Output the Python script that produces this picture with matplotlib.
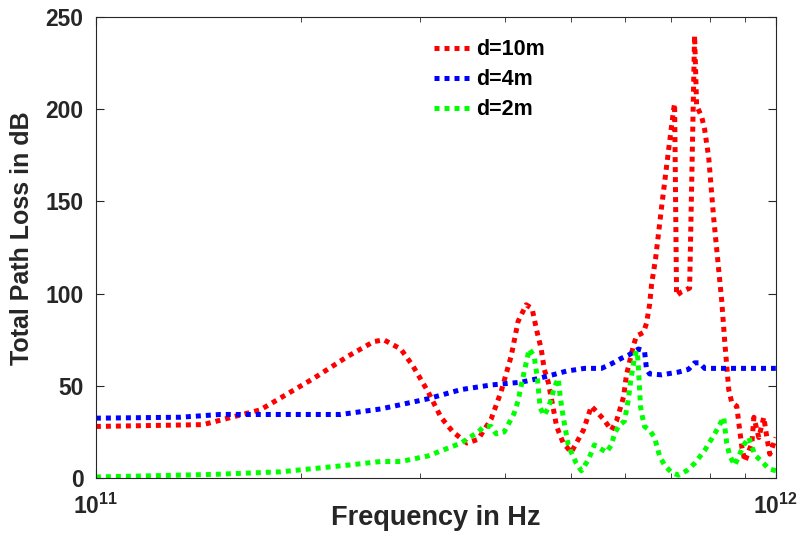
import matplotlib
matplotlib.use("Agg")
import matplotlib.pyplot as plt
from matplotlib.ticker import FixedLocator, NullFormatter, LogLocator
import numpy as np

plt.rcParams['font.family'] = ['Liberation Sans', 'DejaVu Sans']
plt.rcParams['font.weight'] = 'bold'
plt.rcParams['mathtext.fontset'] = 'custom'
plt.rcParams['mathtext.bf'] = 'Liberation Sans:bold'
plt.rcParams['mathtext.rm'] = 'Liberation Sans:bold'

# frequencies in GHz, path loss in dB
f_10m = [100, 143.8, 174.5, 208.9, 234.6, 256.2, 265.1, 280.8, 292.4, 307.8,
         321.7, 335.1, 351.4, 364.8, 381.3, 394.5, 408, 417.8, 429.4, 438,
         445, 451.8, 456.5, 462.7, 470, 476, 486.8, 500.2, 505.4, 521.2,
         535.5, 557.8, 573.1, 583.0, 597.1, 603.0, 617.5, 623.7, 638.8, 645.4,
         652.1, 656.5, 665.5, 679.2, 695.5, 707.5, 709.8, 714.5, 726.8, 746.8,
         759.5, 764.7, 777.9, 785.8, 796.6, 810.2, 824.1, 832.6, 841.1, 852.6,
         861.3, 876.1, 882.1, 891.2, 900.4, 922.1, 928.4, 943.9, 960.1, 970.0,
         979.9, 1000]
pl_10m = [28, 29, 37, 54, 66, 74, 75, 70, 61, 47,
          33, 25, 19, 21, 32, 47, 66, 85, 94, 92,
          80, 70, 59, 52, 39, 28, 19, 14, 17, 26,
          39, 32, 26, 31, 44, 56, 72, 77, 79, 84,
          94, 105, 119, 147, 178, 200, 203, 99, 101, 103,
          240, 202, 196, 189, 174, 141, 113, 96, 74, 48,
          41, 39, 30, 17, 9, 19, 33, 22, 33, 22,
          13, 22]

f_4m = [100, 133, 152.4, 229, 262.4, 307.8, 344.4, 381.3, 422.1, 447.3,
        475.3, 491.8, 523.0, 554.1, 573.1, 593, 609.3, 628, 641, 643.2,
        645.4, 652.1, 679.2, 719.4, 744.2, 759.5, 772.6, 785.8, 1000]
pl_4m = [32.5, 33, 34.5, 34.5, 37.5, 43, 48, 50.5, 52, 54,
         56.5, 58, 59.5, 59.5, 62, 65, 67, 70, 69, 64,
         59, 56.5, 56, 57.5, 59, 62.5, 62.5, 59.5, 59.5]

f_2m = [100, 148.8, 186.8, 234.6, 262.4, 280.8, 307.8, 344.4, 364.8, 372.3,
        381.3, 387.8, 398.5, 405.3, 412.1, 417.8, 422.1, 427.9, 433.8, 441.2,
        446, 450.2, 456.5, 462.7, 467.5, 472.1, 478.6, 481.9, 486.8, 495.1,
        500.2, 508.8, 517.6, 530.1, 541, 563.5, 573.1, 579, 586.8, 599.1,
        607.1, 611.3, 615.5, 619.4, 623.7, 625.8, 628.0, 630.1, 632.3, 636.6,
        641.0, 652.1, 663.2, 674.5, 686, 702.7, 719.4, 739.2, 759.5, 785.8,
        812.9, 838.3, 841.1, 846.8, 855.5, 870.2, 897.3, 912.7, 931.1, 953.6,
        976.6, 1000]
pl_2m = [0.6, 2, 3.4, 7, 9, 9, 12, 19, 25, 28,
         28, 24, 25, 30, 35, 42, 50, 60, 70, 66,
         54, 38, 34, 38, 43, 49, 54, 44, 33, 18,
         14, 8, 4, 10, 18, 14, 18, 24, 28, 31,
         43, 52, 59, 65, 69, 68, 59, 50, 39, 33,
         28, 26, 22, 12, 7, 3, 1.6, 4, 8, 15,
         24, 33, 28, 19, 12, 7, 18, 22, 12.6, 9,
         5, 4]

labels = ['d=10m', 'd=4m', 'd=2m']
colors = ['#ff0000', '#0000ff', '#00ff00']

fig = plt.figure(figsize=(7.99, 5.33), dpi=100)
ax = fig.add_axes([0.120, 0.103, 0.851, 0.865])

series = [(f_10m, pl_10m), (f_4m, pl_4m), (f_2m, pl_2m)]
for (f, pl), lab, c in zip(series, labels, colors):
    ax.plot(np.array(f) * 1e9, pl, color=c, lw=3.6, linestyle=(0, (1, 1)),
            label=lab)

ax.set_xscale('log')
ax.set_xlim(1e11, 1e12)
ax.set_ylim(0, 250)
ax.set_yticks([0, 50, 100, 150, 200, 250])
ax.xaxis.set_major_locator(FixedLocator([1e11, 1e12]))
ax.xaxis.set_minor_locator(LogLocator(base=10, subs=np.arange(2, 10)))
ax.xaxis.set_minor_formatter(NullFormatter())
ax.set_xticklabels([r'$\mathbf{10^{11}}$', r'$\mathbf{10^{12}}$'])

ax.tick_params(which='both', direction='in', top=True, right=True,
               colors='#262626', labelsize=16.5, labelcolor='#262626')
ax.tick_params(which='major', length=6)
ax.tick_params(which='minor', length=3.5)
ax.tick_params(axis='y', pad=9)
ax.tick_params(axis='x', pad=11)
for s in ax.spines.values():
    s.set_color('#262626')
    s.set_linewidth(0.8)

ax.set_xlabel('Frequency in Hz', fontsize=19.5, fontweight='bold', color='#262626')
ax.xaxis.set_label_coords(0.5, -0.058)
ax.set_ylabel('Total Path Loss in dB', fontsize=18, fontweight='bold',
              color='#262626')
ax.yaxis.set_label_coords(-0.091, 0.52)

ax.legend(loc='upper left', bbox_to_anchor=(0.497, 0.952), frameon=False,
          fontsize=15.5, handlelength=1.65, handletextpad=0.3, labelspacing=0.42,
          borderpad=0, borderaxespad=0)

fig.savefig('out.png', dpi=100)
